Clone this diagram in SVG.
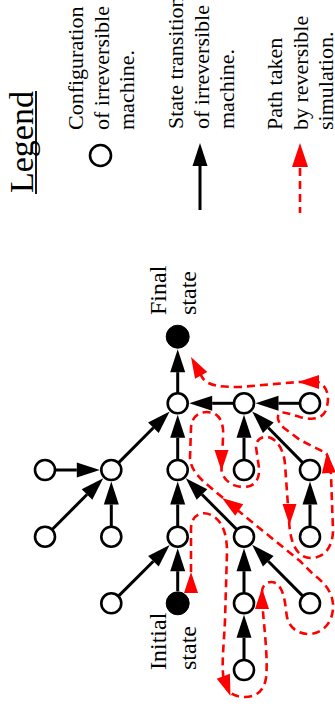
<svg xmlns="http://www.w3.org/2000/svg" xmlns:xlink="http://www.w3.org/1999/xlink" width="335" height="708" viewBox="0 0 335 708">
  <defs>
    <style>
      .node{fill:#fff;stroke:#000;stroke-width:2.6}
      .solid{fill:#000;stroke:#000;stroke-width:1}
      .edge{stroke:#000;stroke-width:3;fill:none;marker-end:url(#ah)}
      .walk{stroke:#f00;stroke-width:2.6;fill:none;stroke-dasharray:8 5}
      .rh{fill:#f00}
      text{font-family:"Liberation Serif","Times New Roman",serif;fill:#000}
      .lg{font-size:22px}
      .lbl{font-size:24px}
      .title{font-size:34px}
    </style>
    <marker id="ah" markerUnits="userSpaceOnUse" markerWidth="24" markerHeight="16" refX="0" refY="8" orient="auto" overflow="visible">
      <path d="M0,0.5 L23,8 L0,15.5 Z" fill="#000"/>
    </marker>
    <!-- red arrowhead, tip at origin pointing along +x -->
    <path id="rh" d="M0,0 L-21,-7 L-21,7 Z"/>
  </defs>

  <!-- Legend (rotated text, reads bottom to top) -->
  <g id="legend">
    <text class="title" transform="translate(33,193) rotate(-90)">Legend</text>
    <line x1="36" y1="194" x2="36" y2="91" stroke="#000" stroke-width="1.8"/>

    <g id="legend-config">
      <circle class="node" cx="100.5" cy="155.5" r="10.5"/>
      <text class="lg" transform="translate(83,130) rotate(-90)">Configuration</text>
      <text class="lg" transform="translate(108.5,130) rotate(-90)">of irreversible</text>
      <text class="lg" transform="translate(134,130) rotate(-90)">machine.</text>
    </g>

    <g id="legend-transition">
      <line class="edge" x1="200" y1="210" x2="200" y2="166"/>
      <text class="lg" transform="translate(183,129) rotate(-90)">State transition</text>
      <text class="lg" transform="translate(208.5,129) rotate(-90)">of irreversible</text>
      <text class="lg" transform="translate(234,129) rotate(-90)">machine.</text>
    </g>

    <g id="legend-path">
      <line x1="300" y1="168" x2="300" y2="213" stroke="#f00" stroke-width="2.6" stroke-dasharray="8 5"/>
      <path class="rh" d="M300,143 L292,167 L308,167 Z"/>
      <text class="lg" transform="translate(282,130) rotate(-90)">Path taken</text>
      <text class="lg" transform="translate(307.5,130) rotate(-90)">by reversible</text>
      <text class="lg" transform="translate(333,130) rotate(-90)">simulation.</text>
    </g>
  </g>

  <!-- Transitions of the irreversible machine -->
  <g id="connectors">
    <line class="edge" x1="177.7" y1="392.8" x2="177.7" y2="372.2"/>
    <line class="edge" x1="233.5" y1="403.3" x2="212.2" y2="403.3"/>
    <line class="edge" x1="299.5" y1="403.3" x2="278.5" y2="403.3"/>
    <line class="edge" x1="177.7" y1="459.5" x2="177.7" y2="437.8"/>
    <line class="edge" x1="244" y1="459.5" x2="244" y2="437.8"/>
    <line class="edge" x1="118.7" y1="462.6" x2="153.4" y2="427.8"/>
    <line class="edge" x1="302.6" y1="462.6" x2="268.3" y2="427.8"/>
    <line class="edge" x1="55.5" y1="470" x2="76.8" y2="470"/>
    <line class="edge" x1="52.4" y1="529.3" x2="87" y2="494.5"/>
    <line class="edge" x1="111.3" y1="526.2" x2="111.3" y2="504.5"/>
    <line class="edge" x1="177.7" y1="526.2" x2="177.7" y2="504.5"/>
    <line class="edge" x1="236.6" y1="529.3" x2="202" y2="494.5"/>
    <line class="edge" x1="310" y1="526.2" x2="310" y2="504.5"/>
    <line class="edge" x1="118.7" y1="595.9" x2="153.4" y2="561.2"/>
    <line class="edge" x1="177.7" y1="591" x2="177.7" y2="571.2"/>
    <line class="edge" x1="244" y1="592.8" x2="244" y2="571.2"/>
    <line class="edge" x1="302.6" y1="595.9" x2="268.3" y2="561.2"/>
    <line class="edge" x1="244" y1="659.5" x2="244" y2="637.8"/>
  </g>

  <!-- Configurations -->
  <g id="final">
    <circle class="solid" cx="177.7" cy="336.7" r="11.5"/>
    <text class="lbl" transform="translate(166,315) rotate(-90)">Final</text>
    <text class="lbl" transform="translate(196,315) rotate(-90)">state</text>
  </g>
  <g id="n_a"><circle class="node" cx="177.7" cy="403.3" r="10"/></g>
  <g id="n_b"><circle class="node" cx="244" cy="403.3" r="10"/></g>
  <g id="n_c"><circle class="node" cx="310" cy="403.3" r="10"/></g>
  <g id="n_20"><circle class="node" cx="45" cy="470" r="10"/></g>
  <g id="n_21"><circle class="node" cx="111.3" cy="470" r="10"/></g>
  <g id="n_22"><circle class="node" cx="177.7" cy="470" r="10"/></g>
  <g id="n_23"><circle class="node" cx="244" cy="470" r="10"/></g>
  <g id="n_24"><circle class="node" cx="310" cy="470" r="10"/></g>
  <g id="n_30"><circle class="node" cx="45" cy="536.7" r="10"/></g>
  <g id="n_31"><circle class="node" cx="111.3" cy="536.7" r="10"/></g>
  <g id="n_32"><circle class="node" cx="177.7" cy="536.7" r="10"/></g>
  <g id="n_33"><circle class="node" cx="244" cy="536.7" r="10"/></g>
  <g id="n_34"><circle class="node" cx="310" cy="536.7" r="10"/></g>
  <g id="n_41"><circle class="node" cx="111.3" cy="603.3" r="10"/></g>
  <g id="initial">
    <circle class="solid" cx="177.7" cy="603.3" r="11.5"/>
    <text class="lbl" transform="translate(166,670) rotate(-90)">Initial</text>
    <text class="lbl" transform="translate(196,670) rotate(-90)">state</text>
  </g>
  <g id="n_43"><circle class="node" cx="244" cy="603.3" r="10"/></g>
  <g id="n_44"><circle class="node" cx="310" cy="603.3" r="10"/></g>
  <g id="n_53"><circle class="node" cx="244" cy="670" r="10"/></g>

  <!-- Walk of the reversible simulation around the tree -->
  <g id="simulation-path">
    <path class="walk" d="M191,585 L191,528 C191.5,514 203,510 213,516 C223,522 227,535 227,552 L225,620 C224,645 221,665 224,682 C227,692 233,697 245,697 C256,697 264,691 266,678 C268,662 265,635 263,612 L262,592 C262,584 270,579 277,584 C284,590 285,602 286.5,614 C288,628 299,635 311,634 C325,632 334,620 333,604 C332,592 325,583 314,575 L300,561 L247,518 L210,487 C199,478 191,470 190,458 L191,428 C191.5,414 203,410 213,413 C221,416 224,425 223,438 L221.5,470 C223,480 232,487 244,487 C254,487 260,480 259,468 L256,447 C256,438 264,435 271,438 C279,442 284,452 285,464 L289,520 C290,545 298,558 311,558 C325,558 333,546 333,530 L331,475 C330,466 329,458 326,453 L300,440 L284,428 C278,423 276,416 280,413 C284,411 292,415 300,417 C311,420 322,420 326,410 C330,398 328,386 318,382 L298,382 L240,387 C220,387 207,386 202,377 L195,364"/>
    <use xlink:href="#rh" class="rh" transform="translate(191,572) rotate(-90)"/>
    <use xlink:href="#rh" class="rh" transform="translate(230.5,696) rotate(70)"/>
    <use xlink:href="#rh" class="rh" transform="translate(262,588) rotate(-90)"/>
    <use xlink:href="#rh" class="rh" transform="translate(222,498) rotate(-145)"/>
    <use xlink:href="#rh" class="rh" transform="translate(221.5,471) rotate(90)"/>
    <use xlink:href="#rh" class="rh" transform="translate(289.5,525) rotate(90)"/>
    <use xlink:href="#rh" class="rh" transform="translate(327,452) rotate(-95)"/>
    <use xlink:href="#rh" class="rh" transform="translate(298,382) rotate(180)"/>
    <use xlink:href="#rh" class="rh" transform="translate(191,357) rotate(-119)"/>
  </g>
</svg>
